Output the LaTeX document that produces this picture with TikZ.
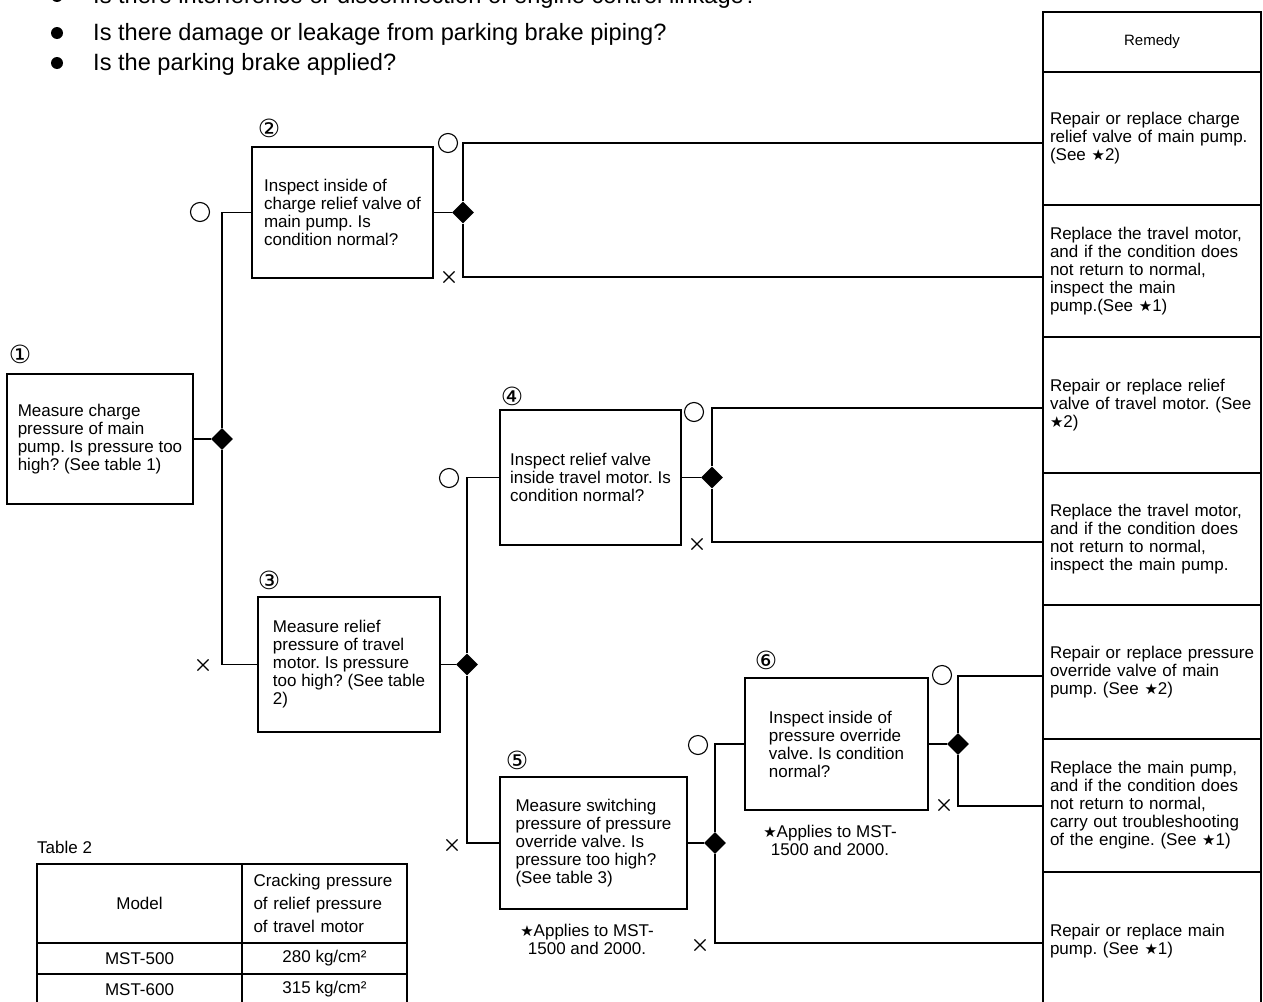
\documentclass[tikz,border=0pt]{standalone}
\usepackage{fontspec}
\setmainfont{Liberation Sans}
\newfontfamily\dv{DejaVu Sans}
\usetikzlibrary{shapes.geometric,shapes.misc}
\frenchspacing
\newcommand\fs{\fontsize{17pt}{18pt}\selectfont\frenchspacing}
\newcommand\fb{\fontsize{23.6pt}{30pt}\selectfont}
\newcommand\st{{\dv\fontsize{15pt}{15pt}\selectfont ★}}
\newcommand\li[1]{\mbox{#1}}
\begin{document}
\begin{tikzpicture}[x=1pt,y=-1pt,
 qbox/.style={draw,line width=1.6pt,align=left,inner xsep=8pt,inner ysep=0pt,font=\fs},
 rbox/.style={draw,line width=1.6pt,minimum width=218pt,inner xsep=7pt,inner ysep=0pt,text width=204pt,align=left,font=\fs},
 tcell/.style={draw,line width=1.2pt,inner sep=0pt,font=\fs},
 link/.style={line width=1.6pt},
 dia/.style={diamond,fill=black,minimum width=22pt,minimum height=22pt,inner sep=0pt},
 yesm/.style={draw,circle,line width=1.1pt,minimum size=19pt,inner sep=0pt},
 nom/.style={draw,cross out,line width=1.1pt,minimum size=10pt,inner sep=0pt},
 num/.style={font=\dv\fontsize{25pt}{25pt}\selectfont,inner sep=0pt},
 note/.style={font=\fs,align=center,inner sep=0pt}]
\useasboundingbox (0,0) rectangle (1263,1001);
\clip (0,0) rectangle (1263,1001);

% top bullets
\fill (57,-4) circle (6);
\fill (57,33) circle (6);
\fill (57,63) circle (6);
\node[font=\fb,anchor=base west,inner sep=0pt] (l1) at (93,3) {Is there interference or disconnection of engine control linkage?};
\node[font=\fb,anchor=base west,inner sep=0pt] (l2) at (93,40) {Is there damage or leakage from parking brake piping?};
\node[font=\fb,anchor=base west,inner sep=0pt] (l3) at (93,70) {Is the parking brake applied?};

% question boxes
\node[qbox,minimum width=186pt,minimum height=130pt] (b1) at (100,439) {Measure charge\\pressure of main\\pump. Is pressure too\\high? (See table 1)};
\node[qbox,minimum width=181pt,minimum height=131pt] (b2) at (342.5,212.5) {Inspect inside of\\charge relief valve of\\main pump. Is\\condition normal?};
\node[qbox,minimum width=182pt,minimum height=135pt] (b3) at (349,664.5) {Measure relief\\pressure of travel\\motor. Is pressure\\too high? (See table\\2)};
\node[qbox,minimum width=181pt,minimum height=135pt] (b4) at (590.5,477.5) {Inspect relief valve\\inside travel motor. Is\\condition normal?};
\node[qbox,minimum width=187pt,minimum height=132pt] (b5) at (593.5,843) {Measure switching\\pressure of pressure\\override valve. Is\\pressure too high?\\(See table 3)};
\node[qbox,minimum width=183pt,minimum height=132pt] (b6) at (836.5,744) {Inspect inside of\\pressure override\\valve. Is condition\\normal?};

% numbers
\node[num] (n1) at (20,354) {①};
\node[num] (n2) at (269,128) {②};
\node[num] (n3) at (269,580) {③};
\node[num] (n4) at (512,396) {④};
\node[num] (n5) at (517,760) {⑤};
\node[num] (n6) at (766,660) {⑥};

% notes
\node[note] (nt5) at (587,939) {\st Applies to MST-\\1500 and 2000.};
\node[note] (nt6) at (830,840) {\st Applies to MST-\\1500 and 2000.};

% remedy column
\node[rbox,minimum height=60pt,align=center,font=\fontsize{15pt}{16pt}\selectfont] (r0) at (1152,42) {Remedy};
\node[rbox,minimum height=133pt] (r1) at (1152,138.5) {\li{Repair or replace charge}\\\li{relief valve of main pump.}\\\li{(See \st2)}};
\node[rbox,minimum height=132pt] (r2) at (1152,271) {\li{Replace the travel motor,}\\\li{and if the condition does}\\\li{not return to normal,}\\\li{inspect the main}\\\li{pump.(See \st1)}};
\node[rbox,minimum height=136pt] (r3) at (1152,405) {\li{Repair or replace relief}\\\li{valve of travel motor. (See}\\\li{\st2)}};
\node[rbox,minimum height=132pt] (r4) at (1152,539) {\li{Replace the travel motor,}\\\li{and if the condition does}\\\li{not return to normal,}\\\li{inspect the main pump.}};
\node[rbox,minimum height=134pt] (r5) at (1152,672) {\li{Repair or replace pressure}\\\li{override valve of main}\\\li{pump. (See \st2)}};
\node[rbox,minimum height=133pt] (r6) at (1152,805.5) {\li{Replace the main pump,}\\\li{and if the condition does}\\\li{not return to normal,}\\\li{carry out troubleshooting}\\\li{of the engine. (See \st1)}};
\node[rbox,minimum height=138pt] (r7) at (1152,941) {\li{Repair or replace main}\\\li{pump. (See \st1)}};

\coordinate (s1) at (1043,143);
\coordinate (s2) at (1043,277);
\coordinate (s3) at (1043,408);
\coordinate (s4) at (1043,542);
\coordinate (s5) at (1043,676);
\coordinate (s6) at (1043,806);
\coordinate (s7) at (1043,943);

% diamonds
\node[dia] (d1) at (222,439) {};
\node[dia] (d2) at (463,212.5) {};
\node[dia] (d3) at (467,664.5) {};
\node[dia] (d4) at (712,477.5) {};
\node[dia] (d5) at (715,843) {};
\node[dia] (d6) at (958,744) {};

% connectors
\draw[link] (b1.east) -- (d1);
\draw[link] (d1) |- (b2.west);
\draw[link] (d1) |- (b3.west);
\draw[link] (b2.east) -- (d2);
\draw[link] (d2) |- (s1);
\draw[link] (d2) |- (s2);
\draw[link] (b3.east) -- (d3);
\draw[link] (d3) |- (b4.west);
\draw[link] (d3) |- (b5.west);
\draw[link] (b4.east) -- (d4);
\draw[link] (d4) |- (s3);
\draw[link] (d4) |- (s4);
\draw[link] (b5.east) -- (d5);
\draw[link] (d5) |- (b6.west);
\draw[link] (d5) |- (s7);
\draw[link] (b6.east) -- (d6);
\draw[link] (d6) |- (s5);
\draw[link] (d6) |- (s6);

% yes / no marks
\node[yesm] (m1) at (200,212) {};
\node[nom] (m2) at (203,665) {};
\node[yesm] (m3) at (448,143) {};
\node[nom] (m4) at (449,277) {};
\node[yesm] (m5) at (449,478) {};
\node[nom] (m6) at (452,845) {};
\node[yesm] (m7) at (694,412) {};
\node[nom] (m8) at (697,544) {};
\node[yesm] (m9) at (698,745) {};
\node[nom] (m10) at (700,945) {};
\node[yesm] (m11) at (942,675) {};
\node[nom] (m12) at (944,805) {};

% table 2
\node[font=\fs,anchor=west,inner sep=0pt] (t2) at (37,847) {Table 2};
\node[tcell,minimum width=205pt,minimum height=79pt] (c11) at (139.5,903.5) {Model};
\node[tcell,minimum width=165pt,minimum height=79pt,align=left,text width=142pt,font=\fontsize{17pt}{23pt}\selectfont] (c12) at (324.5,903.5) {Cracking pressure\\of relief pressure\\of travel motor};
\node[tcell,minimum width=205pt,minimum height=31pt] (c21) at (139.5,958.5) {MST-500};
\node[tcell,minimum width=165pt,minimum height=31pt] (c22) at (324.5,958.5) {280 kg/cm²};
\node[tcell,minimum width=205pt,minimum height=31pt] (c31) at (139.5,989.5) {MST-600};
\node[tcell,minimum width=165pt,minimum height=31pt] (c32) at (324.5,989.5) {315 kg/cm²};
\end{tikzpicture}
\end{document}
